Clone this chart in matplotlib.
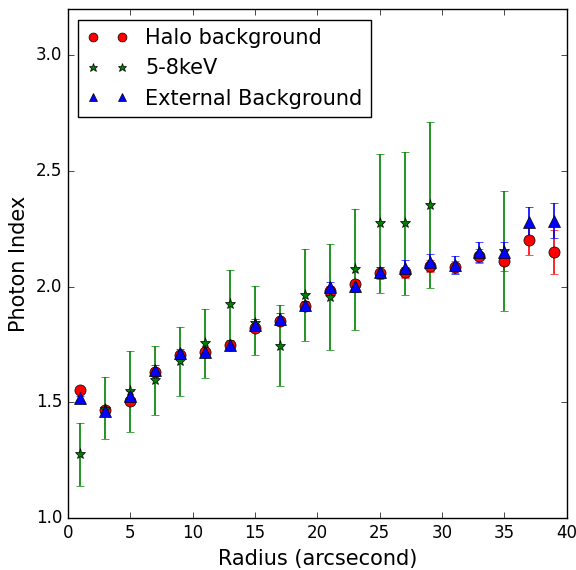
import numpy as np
import matplotlib
matplotlib.use('Agg')
import matplotlib.pyplot as plt

plt.style.use('classic')

# radius bins (arcsec)
radius = [1, 3, 5, 7, 9, 11, 13, 15, 17, 19, 21, 23, 25, 27, 29, 31, 33, 35, 37, 39]

# halo background
halo = [1.552, 1.466, 1.505, 1.632, 1.703, 1.720, 1.748, 1.822, 1.852, 1.918,
        1.983, 2.010, 2.059, 2.062, 2.090, 2.085, 2.134, 2.112, 2.200, 2.152]
halo_err = [0.012, 0.015, 0.015, 0.015, 0.015, 0.015, 0.012, 0.015, 0.015, 0.015,
            0.020, 0.020, 0.025, 0.025, 0.025, 0.025, 0.030, 0.043, 0.062, 0.095]

# external background
ext = [1.518, 1.462, 1.530, 1.642, 1.712, 1.716, 1.750, 1.835, 1.862, 1.920,
       1.997, 2.002, 2.062, 2.079, 2.105, 2.093, 2.150, 2.150, 2.282, 2.285]
ext_err = [0.010, 0.015, 0.020, 0.020, 0.020, 0.015, 0.010, 0.025, 0.025, 0.020,
           0.025, 0.025, 0.025, 0.035, 0.035, 0.040, 0.045, 0.045, 0.062, 0.075]

# 5-8 keV band
hard_r = [1, 3, 5, 7, 9, 11, 13, 15, 17, 19, 21, 23, 25, 27, 29, 35]
hard = [1.276, 1.470, 1.550, 1.595, 1.680, 1.755, 1.925, 1.845, 1.746, 1.966,
        1.957, 2.076, 2.275, 2.275, 2.355, 2.155]
hard_lo = [1.140, 1.342, 1.371, 1.445, 1.526, 1.606, 1.770, 1.706, 1.570, 1.767,
           1.727, 1.815, 1.975, 1.966, 1.994, 1.897]
hard_hi = [1.410, 1.609, 1.721, 1.744, 1.825, 1.904, 2.073, 2.004, 1.921, 2.165,
           2.184, 2.335, 2.575, 2.583, 2.714, 2.414]

labels = ['Halo background', '5-8keV', 'External Background']

hard_err = [np.array(hard) - np.array(hard_lo), np.array(hard_hi) - np.array(hard)]

fig = plt.figure(figsize=(5.76, 5.70), dpi=100, facecolor='white')
ax = fig.add_axes([0.118, 0.091, 0.866, 0.893])

e1 = ax.errorbar(radius, halo, yerr=halo_err, fmt='ro', ecolor='r', markersize=8,
                 elinewidth=1.2)
e2 = ax.errorbar(hard_r, hard, yerr=hard_err, fmt='g*', ecolor='g', markersize=8,
                 elinewidth=1.2)
e3 = ax.errorbar(radius, ext, yerr=ext_err, fmt='b^', ecolor='b', markersize=8,
                 elinewidth=1.2)

ax.set_xlim(0, 40)
ax.set_ylim(1.0, 3.2)
ax.set_yticks([1.0, 1.5, 2.0, 2.5, 3.0])
ax.tick_params(labelsize=12)
ax.set_xlabel('Radius (arcsecond)', fontsize=15)
ax.set_ylabel('Photon Index', fontsize=15)
# legend shows only the markers, no error bars
ax.legend([e1[0], e2[0], e3[0]], labels, loc='upper left', numpoints=2,
          fontsize=15, markerscale=0.8)

plt.savefig('out.png', dpi=100, facecolor='white')
